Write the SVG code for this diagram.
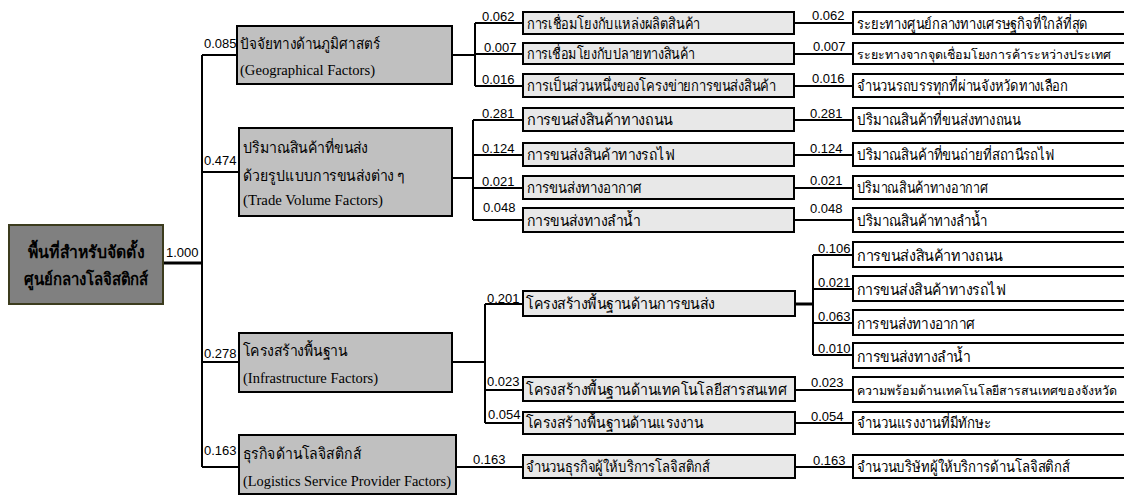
<svg xmlns="http://www.w3.org/2000/svg" width="1124" height="496" viewBox="0 0 1124 496">
<style>
.root{fill:#808080;stroke:#3c3c1e;stroke-width:2}
.l1{fill:#c0c0c0;stroke:#000;stroke-width:2}
.l2{fill:#e8e8e8;stroke:#000;stroke-width:2}
.l3{fill:#fff;stroke:#000;stroke-width:2}
.th{font-family:"Liberation Serif","DejaVu Serif",serif;font-size:15px;fill:#000}
.ths{font-size:12.5px}
.rt{font-family:"Liberation Serif","DejaVu Serif",serif;font-size:17px;font-weight:bold;fill:#000}
.en{font-family:"Liberation Serif",serif;font-size:14px;fill:#000}
.w{font-family:"Liberation Sans",Arial,sans-serif;font-size:13px;fill:#000}
.c{fill:none;stroke:#000;stroke-width:2}
.ct{fill:none;stroke:#000;stroke-width:3}
</style>
<rect width="1124" height="496" fill="#fff"/>
<g id="connectors">
<path class="ct" d="M163 263H202"/>
<path class="c" d="M202 55V467M202 55H237M202 172H239M202 362H239M202 467H239"/>
<path class="c" d="M452 55H475M475 23V86M475 23H523M475 54H523M475 86H523"/>
<path class="c" d="M452 178H473M473 120V220M473 120H523M473 155H523M473 188H523M473 220H523"/>
<path class="c" d="M452 362H485M485 304V423M485 304H523M485 390H523M485 423H523"/>
<path class="c" d="M456 467H523"/>
<path class="c" d="M794 23H853M794 54H853M794 86H853M794 120H853M794 155H853M794 188H853M794 220H853"/>
<path class="ct" d="M795 304H813"/>
<path class="c" d="M813 255V355M813 255H853M813 289H853M813 323H853M813 355H853"/>
<path class="c" d="M795 390H853M795 423H853M795 467H853"/>
<text class="w" x="166" y="257">1.000</text>
<text class="w" x="204" y="48">0.085</text>
<text class="w" x="204" y="165">0.474</text>
<text class="w" x="204" y="358">0.278</text>
<text class="w" x="204" y="455">0.163</text>
<text class="w" x="482" y="21">0.062</text>
<text class="w" x="484" y="52">0.007</text>
<text class="w" x="482" y="84">0.016</text>
<text class="w" x="482" y="118">0.281</text>
<text class="w" x="482" y="153">0.124</text>
<text class="w" x="482" y="186">0.021</text>
<text class="w" x="483" y="212">0.048</text>
<text class="w" x="487" y="303">0.201</text>
<text class="w" x="487" y="386">0.023</text>
<text class="w" x="488" y="419">0.054</text>
<text class="w" x="473" y="464">0.163</text>
<text class="w" x="812" y="20">0.062</text>
<text class="w" x="813" y="51">0.007</text>
<text class="w" x="812" y="83">0.016</text>
<text class="w" x="810" y="118">0.281</text>
<text class="w" x="810" y="153">0.124</text>
<text class="w" x="810" y="185">0.021</text>
<text class="w" x="810" y="213">0.048</text>
<text class="w" x="818" y="253">0.106</text>
<text class="w" x="818" y="287">0.021</text>
<text class="w" x="818" y="321">0.063</text>
<text class="w" x="818" y="353">0.010</text>
<text class="w" x="811" y="387">0.023</text>
<text class="w" x="811" y="421">0.054</text>
<text class="w" x="813" y="465">0.163</text>
</g>
<g id="root">
<rect class="root" x="9" y="225" width="154" height="79"/>
<text class="rt" x="28" y="258" textLength="116" lengthAdjust="spacingAndGlyphs">พื้นที่สำหรับจัดตั้ง</text>
<text class="rt" x="24" y="285" textLength="124" lengthAdjust="spacingAndGlyphs">ศูนย์กลางโลจิสติกส์</text>
</g>
<g id="n-geo">
<rect class="l1" x="237" y="26" width="215" height="58"/>
<text class="th" x="240" y="49" textLength="140" lengthAdjust="spacingAndGlyphs">ปัจจัยทางด้านภูมิศาสตร์</text>
<text class="en" x="240" y="75" textLength="135" lengthAdjust="spacingAndGlyphs">(Geographical Factors)</text>
</g>
<g id="n-trade">
<rect class="l1" x="239" y="128" width="213" height="88"/>
<text class="th" x="243" y="153" textLength="125" lengthAdjust="spacingAndGlyphs">ปริมาณสินค้าที่ขนส่ง</text>
<text class="th" x="243" y="181" textLength="162" lengthAdjust="spacingAndGlyphs">ด้วยรูปแบบการขนส่งต่าง ๆ</text>
<text class="en" x="243" y="205" textLength="140" lengthAdjust="spacingAndGlyphs">(Trade Volume Factors)</text>
</g>
<g id="n-infra">
<rect class="l1" x="239" y="333" width="213" height="59"/>
<text class="th" x="243" y="356" textLength="104" lengthAdjust="spacingAndGlyphs">โครงสร้างพื้นฐาน</text>
<text class="en" x="243" y="383" textLength="135" lengthAdjust="spacingAndGlyphs">(Infrastructure Factors)</text>
</g>
<g id="n-logis">
<rect class="l1" x="239" y="435" width="217" height="59"/>
<text class="th" x="243" y="459" textLength="118" lengthAdjust="spacingAndGlyphs">ธุรกิจด้านโลจิสติกส์</text>
<text class="en" x="243" y="486" textLength="208" lengthAdjust="spacingAndGlyphs">(Logistics Service Provider Factors)</text>
</g>
<g id="n-g1">
<rect class="l2" x="523" y="12" width="271" height="22"/>
<text class="th" x="527" y="29" textLength="173" lengthAdjust="spacingAndGlyphs">การเชื่อมโยงกับแหล่งผลิตสินค้า</text>
</g>
<g id="n-g2">
<rect class="l2" x="523" y="43" width="271" height="21"/>
<text class="th" x="527" y="59" textLength="168" lengthAdjust="spacingAndGlyphs">การเชื่อมโยงกับปลายทางสินค้า</text>
</g>
<g id="n-g3">
<rect class="l2" x="523" y="74" width="271" height="23"/>
<text class="th" x="527" y="91" textLength="249" lengthAdjust="spacingAndGlyphs">การเป็นส่วนหนึ่งของโครงข่ายการขนส่งสินค้า</text>
</g>
<g id="n-t1">
<rect class="l2" x="523" y="108" width="271" height="23"/>
<text class="th" x="527" y="125" textLength="146" lengthAdjust="spacingAndGlyphs">การขนส่งสินค้าทางถนน</text>
</g>
<g id="n-t2">
<rect class="l2" x="523" y="143" width="271" height="23"/>
<text class="th" x="527" y="160" textLength="148" lengthAdjust="spacingAndGlyphs">การขนส่งสินค้าทางรถไฟ</text>
</g>
<g id="n-t3">
<rect class="l2" x="523" y="176" width="271" height="23"/>
<text class="th" x="527" y="193" textLength="115" lengthAdjust="spacingAndGlyphs">การขนส่งทางอากาศ</text>
</g>
<g id="n-t4">
<rect class="l2" x="523" y="208" width="271" height="24"/>
<text class="th" x="527" y="226" textLength="113" lengthAdjust="spacingAndGlyphs">การขนส่งทางลำน้ำ</text>
</g>
<g id="n-i1">
<rect class="l2" x="523" y="291" width="272" height="25"/>
<text class="th" x="526" y="309" textLength="189" lengthAdjust="spacingAndGlyphs">โครงสร้างพื้นฐานด้านการขนส่ง</text>
</g>
<g id="n-i2">
<rect class="l2" x="523" y="377" width="272" height="24"/>
<text class="th" x="526" y="395" textLength="261" lengthAdjust="spacingAndGlyphs">โครงสร้างพื้นฐานด้านเทคโนโลยีสารสนเทศ</text>
</g>
<g id="n-i3">
<rect class="l2" x="523" y="412" width="272" height="22"/>
<text class="th" x="526" y="428" textLength="177" lengthAdjust="spacingAndGlyphs">โครงสร้างพื้นฐานด้านแรงงาน</text>
</g>
<g id="n-l1">
<rect class="l2" x="523" y="455" width="272" height="23"/>
<text class="th" x="526" y="472" textLength="184" lengthAdjust="spacingAndGlyphs">จำนวนธุรกิจผู้ให้บริการโลจิสติกส์</text>
</g>
<g id="n-g1a">
<rect class="l3" x="853" y="12" width="290" height="22"/>
<text class="th" x="857" y="29" textLength="231" lengthAdjust="spacingAndGlyphs">ระยะทางศูนย์กลางทางเศรษฐกิจที่ใกล้ที่สุด</text>
</g>
<g id="n-g2a">
<rect class="l3" x="853" y="43" width="290" height="21"/>
<text class="th ths" x="857" y="59" textLength="254" lengthAdjust="spacingAndGlyphs">ระยะทางจากจุดเชื่อมโยงการค้าระหว่างประเทศ</text>
</g>
<g id="n-g3a">
<rect class="l3" x="853" y="74" width="290" height="23"/>
<text class="th" x="857" y="91" textLength="211" lengthAdjust="spacingAndGlyphs">จำนวนรถบรรทุกที่ผ่านจังหวัดทางเลือก</text>
</g>
<g id="n-t1a">
<rect class="l3" x="853" y="108" width="290" height="23"/>
<text class="th" x="857" y="125" textLength="164" lengthAdjust="spacingAndGlyphs">ปริมาณสินค้าที่ขนส่งทางถนน</text>
</g>
<g id="n-t2a">
<rect class="l3" x="853" y="143" width="290" height="23"/>
<text class="th" x="857" y="160" textLength="198" lengthAdjust="spacingAndGlyphs">ปริมาณสินค้าที่ขนถ่ายที่สถานีรถไฟ</text>
</g>
<g id="n-t3a">
<rect class="l3" x="853" y="176" width="290" height="23"/>
<text class="th" x="857" y="193" textLength="131" lengthAdjust="spacingAndGlyphs">ปริมาณสินค้าทางอากาศ</text>
</g>
<g id="n-t4a">
<rect class="l3" x="853" y="208" width="290" height="24"/>
<text class="th" x="857" y="226" textLength="130" lengthAdjust="spacingAndGlyphs">ปริมาณสินค้าทางลำน้ำ</text>
</g>
<g id="n-i1a">
<rect class="l3" x="853" y="242" width="290" height="25"/>
<text class="th" x="857" y="261" textLength="146" lengthAdjust="spacingAndGlyphs">การขนส่งสินค้าทางถนน</text>
</g>
<g id="n-i1b">
<rect class="l3" x="853" y="276" width="290" height="25"/>
<text class="th" x="857" y="295" textLength="149" lengthAdjust="spacingAndGlyphs">การขนส่งสินค้าทางรถไฟ</text>
</g>
<g id="n-i1c">
<rect class="l3" x="853" y="310" width="290" height="25"/>
<text class="th" x="857" y="329" textLength="118" lengthAdjust="spacingAndGlyphs">การขนส่งทางอากาศ</text>
</g>
<g id="n-i1d">
<rect class="l3" x="853" y="343" width="290" height="25"/>
<text class="th" x="857" y="362" textLength="113" lengthAdjust="spacingAndGlyphs">การขนส่งทางลำน้ำ</text>
</g>
<g id="n-i2a">
<rect class="l3" x="853" y="377" width="290" height="25"/>
<text class="th ths" x="857" y="395" textLength="260" lengthAdjust="spacingAndGlyphs">ความพร้อมด้านเทคโนโลยีสารสนเทศของจังหวัด</text>
</g>
<g id="n-i3a">
<rect class="l3" x="853" y="412" width="290" height="22"/>
<text class="th" x="857" y="428" textLength="134" lengthAdjust="spacingAndGlyphs">จำนวนแรงงานที่มีทักษะ</text>
</g>
<g id="n-l1a">
<rect class="l3" x="853" y="455" width="290" height="23"/>
<text class="th" x="857" y="472" textLength="213" lengthAdjust="spacingAndGlyphs">จำนวนบริษัทผู้ให้บริการด้านโลจิสติกส์</text>
</g>
</svg>
